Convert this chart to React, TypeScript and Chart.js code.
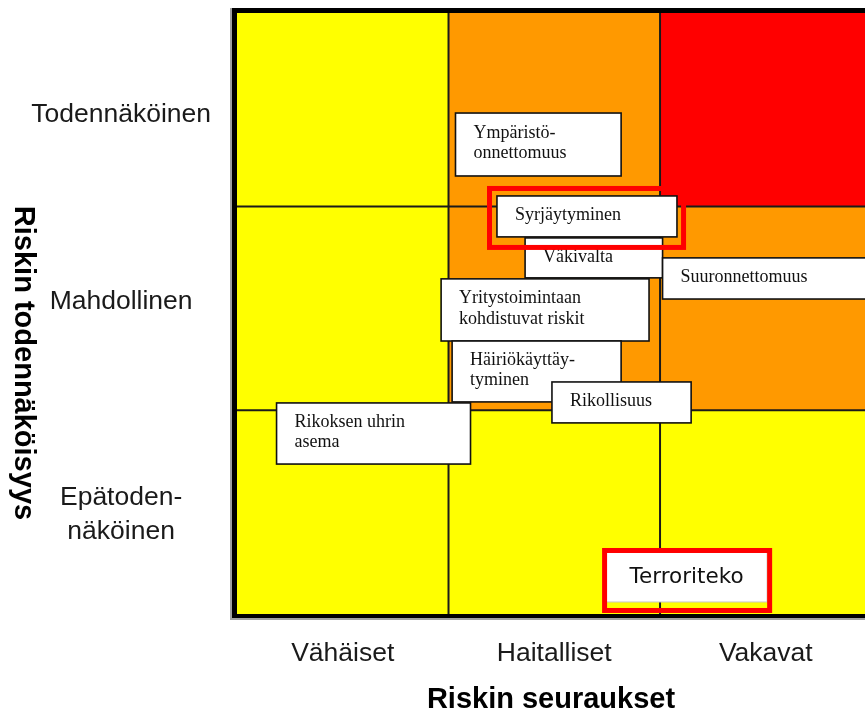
import React, { useEffect, useRef } from "react";
import { Chart, registerables } from "chart.js";

Chart.register(...registerables);

// ---- Axis categories / tick labels ----
const consequenceLabels = ["Vähäiset", "Haitalliset", "Vakavat"];
const consequenceTickValues = [0.5, 1.5, 2.5];
const likelihoodLabels: (string | string[])[] = [["Epätoden-", "näköinen"], "Mahdollinen", "Todennäköinen"];
const likelihoodTickValues = [0.486, 1.532, 2.452];

const xTitle = "Riskin seuraukset";
const yTitle = "Riskin todennäköisyys";

// ---- Matrix risk levels (rows: likelihood bottom→top, cols: consequence left→right) ----
const levelRowUnlikely = [1, 1, 1];
const levelRowPossible = [1, 2, 2];
const levelRowLikely = [1, 2, 3];
const riskLevels = [levelRowUnlikely, levelRowPossible, levelRowLikely];

// ---- Risks: extent in consequence (x) and likelihood (y) units ----
const riskNames = [
  "Väkivalta",
  "Syrjäytyminen",
  "Ympäristö-\nonnettomuus",
  "Suuronnettomuus",
  "Yritystoimintaan\nkohdistuvat riskit",
  "Häiriökäyttäy-\ntyminen",
  "Rikollisuus",
  "Rikoksen uhrin\nasema",
  "Terroriteko",
];
const consequenceFrom = [1.362, 1.229, 1.033, 2.012, 0.965, 1.017, 1.489, 0.187, 1.745];
const consequenceTo = [2.012, 2.08, 1.816, 3.05, 1.948, 1.816, 2.147, 1.104, 2.506];
const likelihoodFrom = [1.65, 1.851, 2.15, 1.546, 1.34, 1.041, 0.938, 0.736, 0.059];
const likelihoodTo = [1.846, 2.052, 2.459, 1.748, 1.645, 1.34, 1.139, 1.036, 0.304];

// ---- Highlighted risks (red frames) ----
const highlightConsFrom = [1.182, 1.726];
const highlightConsTo = [2.123, 2.53];
const highlightLikFrom = [1.787, 0.005];
const highlightLikTo = [2.101, 0.324];

// ---- Styles ----
const levelColors: Record<number, string> = { 1: "#FFFF00", 2: "#FF9900", 3: "#FF0000" };
const SANS = '"Liberation Sans", Arial, sans-serif';
const serifBoxFont = '18px "Liberation Serif", "Times New Roman", serif';
const specialBoxStyle: Record<string, { font: string; align: "center"; border: string }> = {
  Terroriteko: { font: '21.5px "DejaVu Sans", Verdana, sans-serif', align: "center", border: "#c8c8c8" },
};

const matrixPlugin = {
  id: "riskMatrix",
  beforeDatasetsDraw(chart: any) {
    const { ctx, chartArea: a, scales } = chart;
    const x = scales.x, y = scales.y;
    ctx.save();
    ctx.beginPath();
    ctx.rect(a.left, a.top, a.right - a.left, a.bottom - a.top);
    ctx.clip();
    riskLevels.forEach((row, r) => {
      row.forEach((lvl, c) => {
        const x0 = x.getPixelForValue(c), x1 = x.getPixelForValue(c + 1);
        const y0 = y.getPixelForValue(r + 1), y1 = y.getPixelForValue(r);
        ctx.fillStyle = levelColors[lvl];
        ctx.fillRect(x0, y0, x1 - x0, y1 - y0);
      });
    });
    ctx.strokeStyle = "#1a1a1a";
    ctx.lineWidth = 2;
    [1, 2].forEach((v) => {
      const px = x.getPixelForValue(v);
      ctx.beginPath();
      ctx.moveTo(px, a.top);
      ctx.lineTo(px, a.bottom);
      ctx.stroke();
      const py = y.getPixelForValue(v);
      ctx.beginPath();
      ctx.moveTo(a.left, py);
      ctx.lineTo(a.right, py);
      ctx.stroke();
    });
    ctx.restore();
  },
  afterDatasetsDraw(chart: any) {
    const { ctx, chartArea: a, scales } = chart;
    const x = scales.x, y = scales.y;
    ctx.save();
    ctx.beginPath();
    ctx.rect(a.left, a.top, a.right - a.left, a.bottom - a.top);
    ctx.clip();
    riskNames.forEach((name, i) => {
      const x0 = x.getPixelForValue(consequenceFrom[i]);
      const x1 = x.getPixelForValue(consequenceTo[i]);
      const y0 = y.getPixelForValue(likelihoodTo[i]);
      const y1 = y.getPixelForValue(likelihoodFrom[i]);
      const sp = specialBoxStyle[name];
      ctx.fillStyle = "#ffffff";
      ctx.fillRect(x0, y0, x1 - x0, y1 - y0);
      ctx.strokeStyle = sp ? sp.border : "#111111";
      ctx.lineWidth = sp ? 1 : 1.6;
      ctx.strokeRect(x0, y0, x1 - x0, y1 - y0);
      const lines = name.split("\n");
      ctx.fillStyle = "#111111";
      ctx.textBaseline = "middle";
      const lh = 20.5;
      const cy = (y0 + y1) / 2 - 1;
      if (sp) {
        ctx.font = sp.font;
        ctx.textAlign = "center";
        lines.forEach((t, k) => ctx.fillText(t, (x0 + x1) / 2, cy + (k - (lines.length - 1) / 2) * lh + 1));
      } else {
        ctx.font = serifBoxFont;
        ctx.textAlign = "left";
        lines.forEach((t, k) => ctx.fillText(t, x0 + 18, cy + (k - (lines.length - 1) / 2) * lh));
      }
    });
    ctx.strokeStyle = "#FF0000";
    ctx.lineWidth = 5;
    highlightConsFrom.forEach((_, i) => {
      const x0 = x.getPixelForValue(highlightConsFrom[i]);
      const x1 = x.getPixelForValue(highlightConsTo[i]);
      const y0 = y.getPixelForValue(highlightLikTo[i]);
      const y1 = y.getPixelForValue(highlightLikFrom[i]);
      ctx.strokeRect(x0 + 2.5, y0 + 2.5, x1 - x0 - 5, y1 - y0 - 5);
    });
    ctx.restore();
  },
  afterDraw(chart: any) {
    const { ctx, chartArea: a } = chart;
    ctx.save();
    // shadow
    ctx.fillStyle = "#a0a0a0";
    ctx.fillRect(a.left - 7, a.top - 5, 2, a.bottom - a.top + 11);
    ctx.fillRect(a.left - 5, a.bottom + 4, a.right - a.left + 5, 2);
    // frame
    ctx.fillStyle = "#000000";
    ctx.fillRect(a.left - 5, a.top - 5, 5, a.bottom - a.top + 9);
    ctx.fillRect(a.left - 5, a.top - 5, a.right - a.left + 5, 5);
    ctx.fillRect(a.left - 5, a.bottom, a.right - a.left + 5, 4);
    // rotated y title (reads top to bottom)
    ctx.translate(23, 363);
    ctx.rotate(Math.PI / 2);
    ctx.font = `bold 29px ${SANS}`;
    ctx.textAlign = "center";
    ctx.textBaseline = "middle";
    ctx.fillStyle = "#000000";
    ctx.fillText(yTitle, 0, 0);
    ctx.restore();
  },
};

export default function App() {
  const ref = useRef<HTMLCanvasElement | null>(null);
  useEffect(() => {
    if (!ref.current) return;
    const chart = new Chart(ref.current, {
      type: "scatter",
      data: {
        datasets: [
          {
            data: riskNames.map((_, i) => ({
              x: (consequenceFrom[i] + consequenceTo[i]) / 2,
              y: (likelihoodFrom[i] + likelihoodTo[i]) / 2,
            })),
            pointRadius: 0,
            pointHoverRadius: 0,
          },
        ],
      },
      options: {
        animation: false,
        responsive: false,
        events: [],
        layout: { padding: { top: 13, left: 0, right: 0, bottom: 0 } },
        plugins: { legend: { display: false }, tooltip: { enabled: false } },
        scales: {
          x: {
            type: "linear",
            min: 0,
            max: 2.969,
            grid: { display: false, drawTicks: false },
            border: { display: false },
            afterBuildTicks: (s: any) => {
              s.ticks = consequenceTickValues.map((v) => ({ value: v }));
            },
            afterFit: (s: any) => {
              s.height = 100;
              s.paddingLeft = 0;
              s.paddingRight = 0;
              s.paddingTop = 0;
              s.paddingBottom = 0;
            },
            ticks: {
              callback: (_v: any, i: number) => consequenceLabels[i],
              padding: 24,
              maxRotation: 0,
              autoSkip: false,
              color: "#1a1a1a",
              font: { family: SANS, size: 26.5, lineHeight: 1.2 },
            },
            title: {
              display: true,
              text: xTitle,
              color: "#000",
              padding: { top: 0, bottom: 0 },
              font: { family: SANS, size: 29, weight: "bold", lineHeight: 1 },
            },
          },
          y: {
            type: "linear",
            min: 0,
            max: 2.95,
            grid: { display: false, drawTicks: false },
            border: { display: false },
            afterBuildTicks: (s: any) => {
              s.ticks = likelihoodTickValues.map((v) => ({ value: v }));
            },
            afterFit: (s: any) => {
              s.width = 237;
              s.paddingLeft = 0;
              s.paddingRight = 0;
              s.paddingTop = 0;
              s.paddingBottom = 0;
            },
            ticks: {
              callback: (_v: any, i: number) => likelihoodLabels[i],
              padding: 26,
              crossAlign: "center",
              autoSkip: false,
              color: "#1a1a1a",
              font: { family: SANS, size: 26.5, lineHeight: 1.28 },
            },
          },
        },
      } as any,
      plugins: [matrixPlugin],
    });
    return () => chart.destroy();
  }, []);
  return (
    <div style={{ position: "fixed", left: 0, top: 0, width: 865, height: 714, background: "#fff" }}>
      <canvas ref={ref} width={865} height={714} style={{ display: "block", width: 865, height: 714 }} />
    </div>
  );
}
